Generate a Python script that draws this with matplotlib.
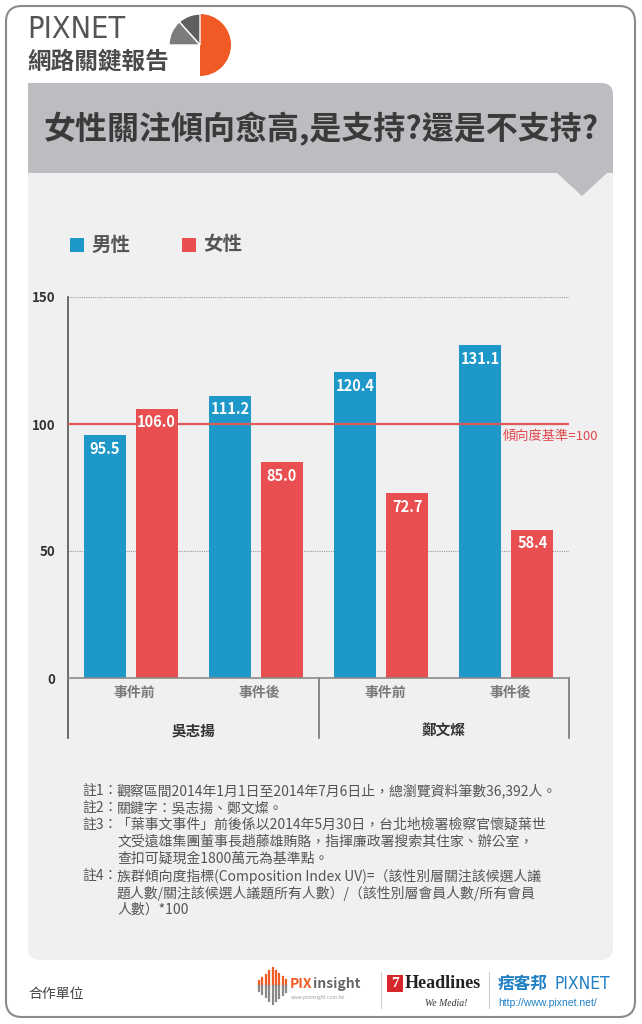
import numpy as np
import matplotlib
matplotlib.use("Agg")
import matplotlib.pyplot as plt
from matplotlib.patches import FancyBboxPatch, Rectangle, Polygon, Wedge

# 資料
候選人 = ["吳志揚", "鄭文燦"]
時點 = ["事件前", "事件後", "事件前", "事件後"]
男性 = [95.5, 111.2, 120.4, 131.1]
女性 = [106.0, 85.0, 72.7, 58.4]
基準 = 100
y_ticks = [0, 50, 100, 150]

notes = [
    ("註1：", "觀察區間2014年1月1日至2014年7月6日止，總瀏覽資料筆數36,392人。"),
    ("註2：", "關鍵字：吳志揚、鄭文燦。"),
    ("註3：", "「葉事文事件」前後係以2014年5月30日，台北地檢署檢察官懷疑葉世"),
    ("", "文受遠雄集團董事長趙藤雄賄賂，指揮廉政署搜索其住家、辦公室，"),
    ("", "查扣可疑現金1800萬元為基準點。"),
    ("註4：", "族群傾向度指標(Composition Index UV)=（該性別層關注該候選人議"),
    ("", "題人數/關注該候選人議題所有人數）/（該性別層會員人數/所有會員"),
    ("", "人數）*100"),
]

# 顏色 / 字型
BLUE = "#1e98c8"
RED = "#e94e50"
CJK = ["Noto Sans CJK TC", "DejaVu Sans"]
plt.rcParams["font.family"] = CJK

W, H = 642, 1024
fig = plt.figure(figsize=(W / 100, H / 100), dpi=100)
bg = fig.add_axes([0, 0, 1, 1])
bg.set_xlim(0, W)
bg.set_ylim(0, H)
bg.axis("off")


def Y(y):
    return H - y


# 外框
bg.add_patch(FancyBboxPatch((6, Y(1017)), 629, 1011,
                            boxstyle="round,pad=0,rounding_size=16",
                            fc="white", ec="#8a8a8a", lw=1.5))

# logo
bg.text(27, Y(30), "PIXNET", family="DejaVu Sans", fontstretch="condensed",
        fontsize=22, color="#555555", va="center", ha="left")
bg.text(27, Y(61), "網路關鍵報告", fontsize=17, fontweight="black",
        color="#4a4a4a", va="center", ha="left")
cx, cy, r = 200, Y(45), 31
bg.add_patch(Wedge((cx, cy), r, -90, 90, fc="#f05a24", ec="none"))
bg.add_patch(Wedge((cx, cy), r, 90, 132, fc="#5f5f5f", ec="white", lw=1))
bg.add_patch(Wedge((cx, cy), r, 132, 180, fc="#7c7c7c", ec="white", lw=1))

# 灰底面板與標題
bg.add_patch(FancyBboxPatch((28, Y(960)), 585, 960 - 83,
                            boxstyle="round,pad=0,rounding_size=12",
                            fc="#f0f0f0", ec="none"))
bg.add_patch(FancyBboxPatch((28, Y(186)), 585, 186 - 83,
                            boxstyle="round,pad=0,rounding_size=12",
                            fc="#bcbdc0", ec="none"))
bg.add_patch(Rectangle((28, Y(120)), 30, 37, fc="#bcbdc0", ec="none"))
bg.add_patch(Rectangle((28, Y(192)), 585, 19, fc="#f0f0f0", ec="none"))
bg.add_patch(Polygon([(557, Y(173)), (607, Y(173)), (582, Y(196))],
                     closed=True, fc="#bcbdc0", ec="none"))
bg.text(321, Y(129), "女性關注傾向愈高,是支持?還是不支持?", fontsize=23,
        fontweight="bold", color="#3a3a3a", ha="center", va="center")

# 圖例
for x0, col, lab in [(70, BLUE, "男性"), (182, RED, "女性")]:
    bg.add_patch(Rectangle((x0, Y(252)), 14, 14, fc=col, ec="none"))
    bg.text(x0 + 21, Y(245), lab, fontsize=14, fontweight="bold",
            color="#555555", va="center", ha="left")

# 長條圖
ax = fig.add_axes([68 / W, (H - 678) / H, (569 - 68) / W, (678 - 297) / H])
ax.set_facecolor("none")
ax.set_xlim(0, 4)
ax.set_ylim(0, 150)
for s in ["top", "right"]:
    ax.spines[s].set_visible(False)
ax.spines["left"].set_color("#555555")
ax.spines["left"].set_linewidth(1.2)
ax.spines["bottom"].set_color("#8a8a8a")
ax.spines["bottom"].set_linewidth(1.2)
ax.set_xticks([])
ax.set_yticks(y_ticks)
ax.set_yticklabels([str(t) for t in y_ticks], fontsize=9.5,
                   fontweight="bold", color="#333333")
ax.tick_params(axis="y", length=0, pad=9)

for t in y_ticks[1:]:
    ax.axhline(t, color="#9a9a9a", lw=0.8, ls=(0, (1, 1)), zorder=1)

g = np.arange(len(男性)) + 0.5
off, bw = 0.207, 0.336
bm = ax.bar(g - off, 男性, width=bw, color=BLUE, zorder=2)
bf = ax.bar(g + off, 女性, width=bw, color=RED, zorder=2)

ax.axhline(基準, color="#e0595b", lw=1.6, zorder=3)
ax.annotate(f"傾向度基準={基準}", (3.475, 基準), xytext=(0, -4),
            textcoords="offset points", fontsize=9.5, color="#e0474c",
            ha="left", va="top", annotation_clip=False, zorder=4)

for bars, vals in [(bm, 男性), (bf, 女性)]:
    for b, v in zip(bars, vals):
        ax.annotate(f"{v:.1f}", (b.get_x() + b.get_width() / 2, v),
                    xytext=(0, -4), textcoords="offset points",
                    ha="center", va="top", color="white", fontsize=10.5,
                    fontweight="bold", zorder=5)

# 類別標籤
tr = ax.get_xaxis_transform()
for xi, lab in zip(g, 時點):
    ax.text(xi + 0.03, -0.040, lab, transform=tr, ha="center", va="center",
            fontsize=10, fontweight="bold", color="#7a7a7a")
for i, name in enumerate(候選人):
    ax.text(2 * i + 1, -0.137, name, transform=tr, ha="center", va="center",
            fontsize=10.5, fontweight="bold", color="#333333")
for xs in [0, 2, 4]:
    ax.plot([xs, xs], [0, -0.1575], transform=tr,
            color="#777777" if xs else "#555555", lw=1.2, clip_on=False)

# 註解
for i, (head, body) in enumerate(notes):
    yy = Y(791 + 17 * i)
    if head:
        bg.text(82, yy, head, fontsize=10, color="#555555", va="center", ha="left")
    bg.text(117, yy, body, fontsize=10, color="#555555", va="center", ha="left")

# 合作單位
bg.text(28, Y(994), "合作單位", fontsize=10, color="#444444", va="center", ha="left")
bar_h = [10, 16, 22, 30, 36, 30, 24, 18, 12]
for k, h in enumerate(bar_h):
    xx = 259 + k * 3.4
    bg.plot([xx, xx], [Y(986 - h / 2), Y(986)], color="#f05a24", lw=1.6)
    bg.plot([xx, xx], [Y(986), Y(986 + h / 2)], color="#8a8a8a", lw=1.6)
bg.text(290, Y(984), "PIX", fontsize=10, fontweight="bold", color="#f05a24",
        va="center", ha="left")
bg.text(313, Y(984), "insight", fontsize=10, fontweight="bold", color="#666666",
        va="center", ha="left")
bg.text(291, Y(998), "www.pixinsight.com.tw", fontsize=3.5, color="#999999",
        va="center", ha="left")
bg.plot([381, 381], [Y(972), Y(1008)], color="#d0d0d0", lw=0.8)
bg.add_patch(Rectangle((387, Y(992)), 16, 17, fc="#d7262c", ec="none"))
bg.text(395, Y(983.5), "7", fontsize=11, fontweight="bold", color="white",
        family="Liberation Serif", ha="center", va="center")
bg.text(405, Y(984), "Headlines", fontsize=13, fontweight="bold", color="#222222",
        family="Liberation Serif", ha="left", va="center")
bg.text(425, Y(1004), "We Media!", fontsize=7, style="italic", color="#333333",
        family="Liberation Serif", ha="left", va="center")
bg.plot([489, 489], [Y(972), Y(1008)], color="#d0d0d0", lw=0.8)
bg.text(498, Y(984), "痞客邦", fontsize=12, fontweight="bold", color="#1f7fc4",
        ha="left", va="center")
bg.text(555, Y(984), "PIXNET", fontsize=12.5, color="#1f7fc4",
        family="DejaVu Sans", fontstretch="condensed", ha="left", va="center")
bg.text(498, Y(1003), "http://www.pixnet.net/", fontsize=7.5, color="#1f7fc4",
        family=["Liberation Sans", "DejaVu Sans"], ha="left", va="center")

fig.savefig("out.png", dpi=100)
